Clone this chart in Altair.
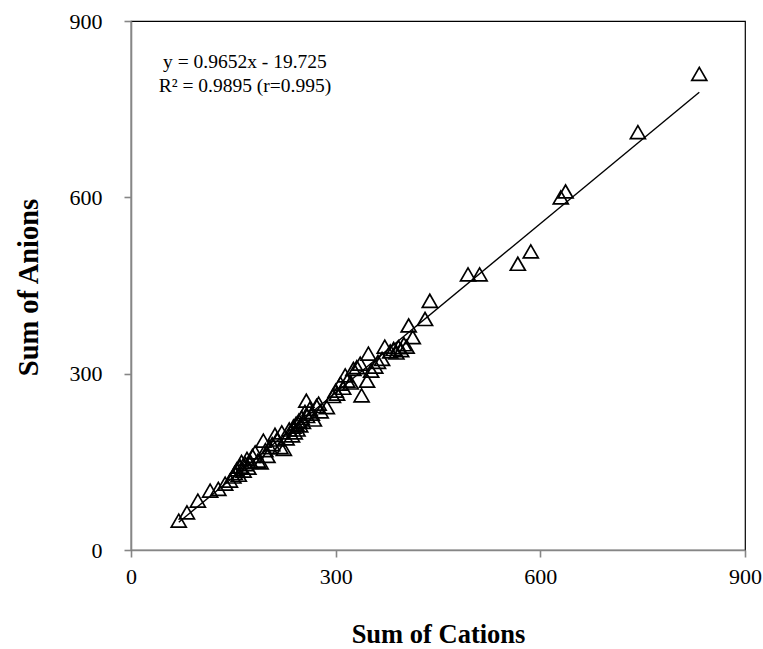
import altair as alt
import pandas as pd

# Sum of cations (x) and sum of anions (y)
cations = [70, 82, 98, 116, 128, 138, 145, 150, 152, 155, 158, 160, 162, 165, 168,
           170, 172, 175, 178, 182, 186, 190, 194, 197, 200, 203, 207, 211, 214, 219,
           221, 224, 228, 232, 236, 238, 240, 242, 244, 246, 248, 250, 252, 255, 257,
           258, 262, 265, 268, 272, 275, 278, 287, 296, 300, 302, 307, 311, 314, 317,
           322, 326, 331, 336, 338, 346, 348, 352, 358, 362, 368, 372, 380, 385, 389,
           392, 396, 400, 404, 407, 413, 431, 438, 494, 511, 567, 586, 630, 637, 743, 833]
anions = [50, 64, 84, 101, 104, 113, 118, 125, 131, 137, 128, 142, 150, 135, 146,
          155, 140, 150, 160, 166, 152, 149, 186, 170, 160, 175, 180, 196, 188, 175,
          200, 172, 190, 205, 195, 210, 200, 215, 205, 220, 212, 225, 218, 235, 254,
          228, 240, 232, 222, 245, 249, 236, 243, 262, 271, 266, 283, 276, 297, 288,
          285, 308, 311, 317, 263, 288, 334, 305, 312, 320, 325, 346, 338, 342, 336,
          345, 340, 350, 346, 382, 362, 393, 424, 469, 469, 487, 508, 600, 610, 711, 810]

eq_lines = ["y = 0.9652x - 19.725", "R² = 0.9895 (r=0.995)"]
x_ticks = [0, 300, 600, 900]
y_ticks = [0, 300, 600, 900]

df = pd.DataFrame({"cations": cations, "anions": anions})

FONT = "Liberation Serif"

xscale = alt.Scale(domain=[0, 900], nice=False, zero=False)
yscale = alt.Scale(domain=[0, 900], nice=False, zero=False)

points = alt.Chart(df).mark_point(
    shape="triangle-up", filled=False, size=225, strokeWidth=1.7,
    color="black", opacity=1
).encode(
    x=alt.X("cations:Q", scale=xscale, title="Sum of Cations",
            axis=alt.Axis(values=x_ticks, grid=False, tickSize=7, labelPadding=9,
                          labelFlush=False,
                          titleX=307, titleY=84, titleBaseline="middle",
                          titleAlign="center", titleFontSize=26.5)),
    y=alt.Y("anions:Q", scale=yscale, title="Sum of Anions",
            axis=alt.Axis(values=y_ticks, grid=False, tickSize=7, labelPadding=22,
                          labelFlush=False,
                          titleX=-103, titleY=266, titleAngle=-90,
                          titleBaseline="middle", titleAlign="center",
                          titleFontSize=28.5)),
)

line = alt.Chart(df).transform_regression(
    "cations", "anions"
).mark_line(color="black", strokeWidth=1.4).encode(
    x=alt.X("cations:Q", scale=xscale),
    y=alt.Y("anions:Q", scale=yscale),
)

label = alt.Chart().mark_text(
    font=FONT, fontSize=19.5, color="black", align="center", baseline="middle",
    lineHeight=24
).encode(
    x=alt.datum(167),
    y=alt.datum(830),
    text=alt.value(eq_lines),
)

chart = alt.layer(points, line, label).properties(
    width=614, height=529,
    autosize=alt.AutoSizeParams(type="none"),
    padding={"left": 131, "top": 21, "right": 18, "bottom": 99},
    background="white",
).configure_view(
    stroke="black", strokeWidth=1.2
).configure_axis(
    domainColor="#868686", domainWidth=1.6, tickColor="#868686", tickWidth=1.6,
    labelFont=FONT, labelFontSize=22, labelColor="black",
    titleFont=FONT, titleFontWeight="bold", titleColor="black",
)

chart.save("out.html", embed_options={"renderer": "svg", "actions": False})
